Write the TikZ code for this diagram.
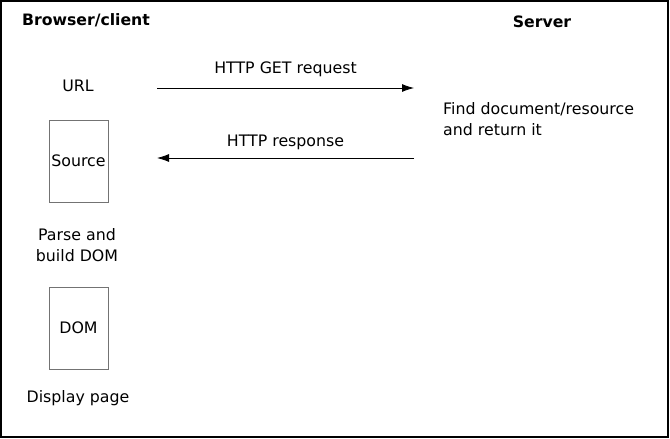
\documentclass[tikz,border=0pt]{standalone}
\usepackage{fontspec}
\setmainfont{DejaVu Sans}
\usetikzlibrary{arrows.meta}
\tikzset{
  lbl/.style={font=\fontsize{15.8}{20.5}\selectfont, inner sep=0pt, align=center},
  head/.style={font=\bfseries\fontsize{15.7}{20}\selectfont, inner sep=0pt},
  docbox/.style={draw=black!55, line width=1pt, minimum width=59pt, minimum height=82pt, inner sep=0pt, font=\fontsize{15.8}{20}\selectfont},
  msg/.style={-{Latex[length=12pt,width=8pt]}, line width=0.8pt},
}
\begin{document}
\begin{tikzpicture}[x=1pt,y=-1pt]
\useasboundingbox (0,0) rectangle (670,439);
\draw[line width=2pt] (1,1) rectangle (668,437);
\node[head] (browser) at (86,20) {Browser/client};
\node[head] (server) at (542,22) {Server};
\node[lbl] (url) at (78,86) {URL};
\node[docbox] (source) at (78.5,161) {Source};
\node[lbl] (parse) at (77,245) {Parse and\\build DOM};
\node[docbox] (dom) at (78.5,328) {DOM};
\node[lbl] (display) at (78,398) {Display page};
\node[lbl, align=left, anchor=west] (find) at (443,119) {Find document/resource\\and return it};
\coordinate (a1) at (157,88);
\coordinate (a2) at (414,88);
\coordinate (b1) at (414,158);
\coordinate (b2) at (157,158);
\draw[msg] (a1) -- node[lbl, above=10.5pt] (get) {HTTP GET request} (a2);
\draw[msg] (b1) -- node[lbl, above=7.5pt] (resp) {HTTP response} (b2);
\end{tikzpicture}
\end{document}
